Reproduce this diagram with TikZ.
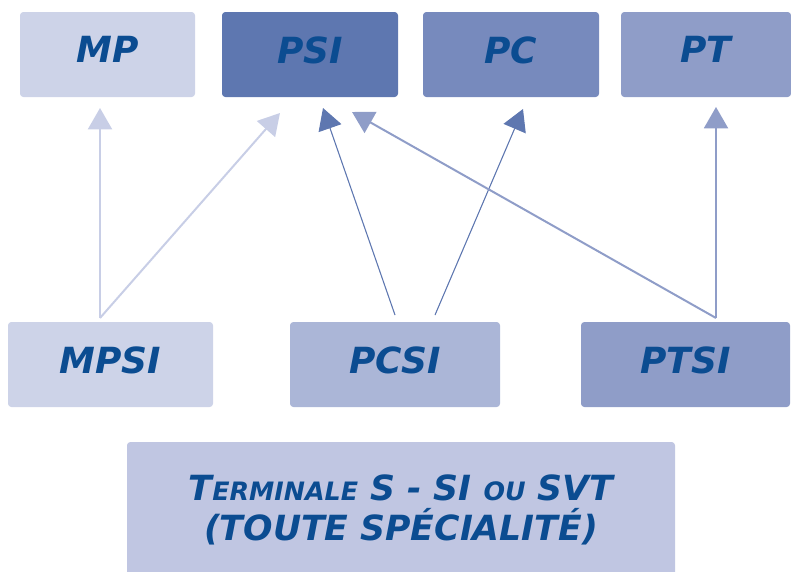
\documentclass[tikz,border=0pt]{standalone}
\usepackage{fontspec}
\setmainfont{DejaVu Sans}
\usetikzlibrary{arrows.meta, positioning, calc}

\definecolor{txtblue}{HTML}{0B4C91}
\definecolor{lightbox}{HTML}{CDD3E8}
\definecolor{psibox}{HTML}{5E77B0}
\definecolor{pcbox}{HTML}{778ABD}
\definecolor{ptbox}{HTML}{8F9DC8}
\definecolor{pcsibox}{HTML}{ABB6D7}
\definecolor{termbox}{HTML}{C0C6E2}
\definecolor{lightarr}{HTML}{C8CEE6}

\newcommand{\smcap}[2]{#1{\fontsize{19}{20}\selectfont #2}}

\begin{document}
\begin{tikzpicture}[x=0.75pt, y=-0.75pt,
  box/.style={rectangle, rounded corners=2.5pt, inner sep=0pt, minimum height=85*0.75pt,
    text depth=7pt, text=txtblue, font=\fontsize{27}{30}\selectfont\bfseries\itshape},
  arr/.style={-{Triangle[length=16pt, width=18pt]}, line width=1.5pt}]
\clip (0,0) rectangle (791,571);
%nodes
\node[box, fill=lightbox, minimum width=175*0.75pt] (mp) at (107.5, 54.5) {MP};
\node[box, fill=psibox, minimum width=176*0.75pt] (psi) at (310, 54.5) {PSI};
\node[box, fill=pcbox, minimum width=176*0.75pt] (pc) at (511, 54.5) {PC};
\node[box, fill=ptbox, minimum width=170*0.75pt] (pt) at (706, 54.5) {PT};
\node[box, fill=lightbox, minimum width=205*0.75pt] (mpsi) at (110.5, 364.5) {MPSI};
\node[box, fill=pcsibox, minimum width=210*0.75pt] (pcsi) at (395, 364.5) {PCSI};
\node[box, fill=ptbox, minimum width=209*0.75pt] (ptsi) at (685.5, 364.5) {PTSI};
\node[box, fill=termbox, minimum width=548*0.75pt, minimum height=145*0.75pt, align=center,
  text depth=11pt, font=\fontsize{26}{30}\selectfont\bfseries\itshape] (term) at (401, 514.5)
  {\smcap{T}{ERMINALE} S - SI \smcap{}{OU} SVT\\(TOUTE SPÉCIALITÉ)};

%ends of the connections
\coordinate (mpsi out) at (100, 318);
\coordinate (pcsi left) at (395, 315);
\coordinate (pcsi right) at (435, 315);
\coordinate (ptsi out) at (716, 318);
\coordinate (mp in) at (100, 108);
\coordinate (psi in a) at (280, 113);
\coordinate (psi in b) at (323, 108);
\coordinate (psi in c) at (352, 112);
\coordinate (pc in) at (523, 109);
\coordinate (pt in) at (716, 107);

%connections
\draw[arr, draw=lightarr, fill=lightarr](mpsi out) -- (mp in);
\draw[arr, draw=lightarr, fill=lightarr](mpsi out) -- (psi in a);
\draw[arr, line width=0.8pt, draw=psibox, fill=psibox](pcsi left) -- (psi in b);
\draw[arr, line width=0.8pt, draw=psibox, fill=psibox](pcsi right) -- (pc in);
\draw[arr, draw=ptbox, fill=ptbox](ptsi out) -- (psi in c);
\draw[arr, draw=ptbox, fill=ptbox](ptsi out) -- (pt in);
\end{tikzpicture}
\end{document}
